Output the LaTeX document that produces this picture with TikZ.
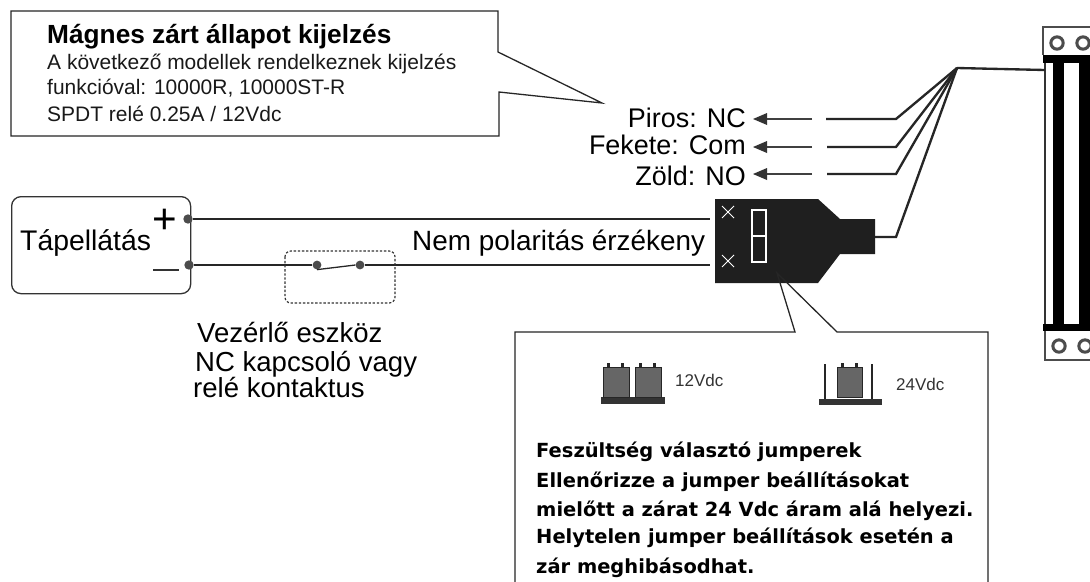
\documentclass[tikz,border=0pt]{standalone}
\usepackage{fontspec}
\setmainfont{Liberation Sans}
\newfontfamily\notefont{DejaVu Sans}
\tikzset{
  wire/.style={line width=1.1pt, black!85},
  leadwire/.style={line width=2pt, black!85},
  outline/.style={draw=black!85, line width=1.1pt},
  term/.style={circle, fill=black!70, inner sep=0pt, minimum size=8pt},
  lab/.style={inner sep=0pt, anchor=base west, font=\fontsize{23.5}{26}\selectfont},
  rlab/.style={inner sep=0pt, anchor=base east, font=\fontsize{23}{26}\selectfont},
  note/.style={inner sep=0pt, anchor=base west, font=\fontsize{17.9}{20}\selectfont, black!90},
  boldnote/.style={inner sep=0pt, anchor=base west, font=\notefont\fontsize{16.6}{19}\bfseries\selectfont},
  smalllab/.style={inner sep=0pt, anchor=base west, font=\fontsize{14.5}{16}\selectfont, black!80},
  screw/.style={circle, draw=black!70, line width=2.6pt, inner sep=0pt, minimum size=10.5pt}
}
\begin{document}
\begin{tikzpicture}[x=0.03cm,y=-0.03cm]
\useasboundingbox (0,0) rectangle (1090,581);
\fill[white] (0,0) rectangle (1090,581);

% status callout
\draw[outline] (11,11) -- (498,11) -- (498,52) -- (602,103) -- (499,92) -- (499,136) -- (11,136) -- cycle;
\node[inner sep=0pt, anchor=base west, font=\fontsize{22.4}{26}\bfseries\selectfont] (title) at (47,43) {Mágnes zárt állapot kijelzés};
\node[note] (line1) at (47,69) {A következő modellek rendelkeznek kijelzés};
\node[note] (line2) at (47,94) {funkcióval: 10000R, 10000ST-R};
\node[note] (line3) at (47,121) {SPDT relé 0.25A / 12Vdc};

% power supply
\node[draw=black!80, line width=1.1pt, rounded corners=8pt, minimum width=179*0.03cm, minimum height=97*0.03cm, anchor=north west] (psu) at (11,196) {};
\node[lab, font=\fontsize{24.2}{26}\selectfont] (psulabel) at (20,250) {Tápellátás};
\node[font=\fontsize{36}{36}\selectfont, inner sep=0pt] (plus) at (165,221) {+};
\draw[line width=1.3pt, black!80] (153,270) -- (179,270);
\node[term] (tplus) at (188,219) {};
\node[term] (tminus) at (189,265) {};

% jumper block
\fill[black!88] (715,199) -- (818,199) -- (840,219) -- (875,219) -- (875,254) -- (840,254) -- (818,283) -- (715,283) -- cycle;
\coordinate (jtop) at (710,219);
\coordinate (jbot) at (710,265);
\coordinate (jout) at (875,237);
\draw[white, line width=1pt] (752,210) rectangle (766,262) (752,236) -- (766,236);
\draw[white, line width=0.8pt] (722,206) -- (734,218) (734,206) -- (722,218) (722,255) -- (734,267) (734,255) -- (722,267);

% wires to jumper block, switch
\node[term, minimum size=7.5pt] (swa) at (317,265) {};
\node[term, minimum size=7.5pt] (swb) at (360,265) {};
\draw[wire] (tplus) -- (jtop);
\draw[wire] (tminus) -- (swa);
\draw[wire] (swb) -- (jbot);
\draw[wire] (swa.south) -- (swb.west);
\draw[black!80, line width=1pt, dash pattern=on 2pt off 1.5pt, rounded corners=5pt] (285,251) rectangle (395,303);
\node[inner sep=0pt, anchor=base west, font=\fontsize{23.8}{26}\selectfont] (nem) at (412,250) {Nem polaritás érzékeny};

\node[lab] (ctrl1) at (197,342) {Vezérlő eszköz};
\node[lab] (ctrl2) at (195,371) {NC kapcsoló vagy};
\node[lab] (ctrl3) at (193,397) {relé kontaktus};

% magnet
\draw[black!70, line width=1pt] (1090,27) -- (1043,27) -- (1043,55) (1045,331) -- (1045,360) -- (1090,360);
\fill[black] (1043,55) rectangle (1090,63);
\fill[black] (1043,324) rectangle (1090,331);
\fill[black] (1053,63) rectangle (1064,324);
\fill[black] (1079,63) rectangle (1090,324);
\draw[black!80, line width=1pt] (1045,63) -- (1045,324);
\node[screw] (s1) at (1057,43) {};
\node[screw] (s2) at (1083,43) {};
\node[screw] (s3) at (1059,346) {};
\node[screw] (s4) at (1085,346) {};

% lead wires
\coordinate (fan) at (957,68);
\coordinate (magnet) at (1045,70);
\coordinate (endnc) at (826,119);
\coordinate (endcom) at (827,147);
\coordinate (endno) at (827,174);
\draw[leadwire] (magnet) -- (fan);
\draw[leadwire] (endnc) -- (896,119) -- (fan);
\draw[leadwire] (endcom) -- (896,147) -- (fan);
\draw[leadwire] (endno) -- (896,174) -- (fan);
\draw[leadwire] (jout) -- (896,237) -- (fan);

% lead labels
\node[rlab] (nc) at (746,127) {Piros: NC};
\node[rlab] (com) at (746,154) {Fekete: Com};
\node[rlab] (no) at (746,185) {Zöld: NO};
\coordinate (startnc) at (812,119);
\coordinate (startcom) at (812,147);
\coordinate (startno) at (812,174);
\foreach \s in {startnc,startcom,startno}
  \draw[black!75, line width=1pt] (\s) -- ++(-45,0);
\fill[black!80] (753,119) -- (767,113) -- (767,125) -- cycle;
\fill[black!80] (753,147) -- (767,141) -- (767,153) -- cycle;
\fill[black!80] (753,174) -- (767,168) -- (767,180) -- cycle;

% jumper callout
\draw[outline] (515,590) -- (515,332) -- (795,332) -- (777,273) -- (837,332) -- (988,332) -- (988,590);

% jumper pictures
\fill[black!80] (601,397) rectangle (665,404);
\foreach \x in {603,635} {
  \fill[black!60, draw=black!85] (\x,367) rectangle +(26,30);
  \fill[black!85] (\x+4,363) rectangle +(3,4);
  \fill[black!85] (\x+18,363) rectangle +(3,4);
}
\node[smalllab] (v12) at (675,386) {12Vdc};
\fill[black!80] (819,399) rectangle (882,405);
\draw[black!85, line width=1.3pt] (825,364) -- (825,399) (872,364) -- (872,399);
\fill[black!60, draw=black!85] (837,367) rectangle (862,397);
\fill[black!85] (841,363) rectangle +(3,4);
\fill[black!85] (855,363) rectangle +(3,4);
\node[smalllab] (v24) at (896,390) {24Vdc};

% jumper note
\node[boldnote] (jn1) at (536,457) {Feszültség választó jumperek};
\node[boldnote] (jn2) at (536,487) {Ellenőrizze a jumper beállításokat};
\node[boldnote] (jn3) at (536,516) {mielőtt a zárat 24 Vdc áram alá helyezi.};
\node[boldnote] (jn4) at (536,543) {Helytelen jumper beállítások esetén a};
\node[boldnote] (jn5) at (536,573) {zár meghibásodhat.};
\end{tikzpicture}
\end{document}
